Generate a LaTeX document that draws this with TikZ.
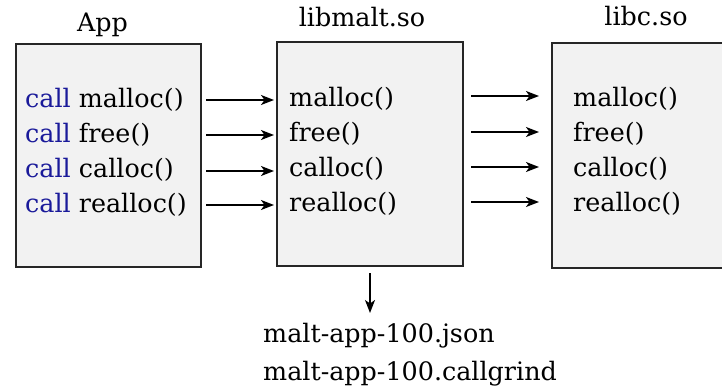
\documentclass[tikz,border=0pt]{standalone}
\usepackage{fontspec}
\setmainfont{DejaVu Serif}
\usetikzlibrary{arrows.meta}
\definecolor{boxfill}{HTML}{F2F2F2}
\definecolor{callblue}{HTML}{1A1A9A}
\tikzset{
  libbox/.style={draw=black!85, line width=1.8pt, fill=boxfill, inner sep=0pt},
  txt/.style={anchor=base west, inner sep=0pt, font=\fontsize{25.4}{30}\selectfont},
  ttl/.style={anchor=base, inner sep=0pt, font=\fontsize{25.4}{30}\selectfont},
  arr/.style={line width=1.5pt, -{Stealth[length=13pt,width=10pt,inset=3.5pt]}}
}
\begin{document}
\begin{tikzpicture}[x=1pt,y=-1pt]
\useasboundingbox (0,0) rectangle (722,387);
\clip (0,0) rectangle (722,387);
% boxes
\node[libbox, minimum width=185pt, minimum height=223pt] (app) at (108.5,155.5) {};
\node[libbox, minimum width=186pt, minimum height=224pt] (malt) at (370,154) {};
\node[libbox, minimum width=190pt, minimum height=225pt] (libc) at (647,155.5) {};
% titles
\node[ttl] (tapp) at (102.5,32) {App};
\node[ttl] (tmalt) at (362,27) {libmalt.so};
\node[ttl] (tlibc) at (646,26) {libc.so};
% app texts
\node[txt] (a1) at (25,108) {\textcolor{callblue}{call} malloc()};
\node[txt] (a2) at (25,143) {\textcolor{callblue}{call} free()};
\node[txt] (a3) at (25,178) {\textcolor{callblue}{call} calloc()};
\node[txt] (a4) at (25,213) {\textcolor{callblue}{call} realloc()};
% malt texts
\node[txt] (m1) at (289,107) {malloc()};
\node[txt] (m2) at (289,142) {free()};
\node[txt] (m3) at (289,177) {calloc()};
\node[txt] (m4) at (289,212) {realloc()};
% libc texts
\node[txt] (c1) at (573,107) {malloc()};
\node[txt] (c2) at (573,142) {free()};
\node[txt] (c3) at (573,177) {calloc()};
\node[txt] (c4) at (573,212) {realloc()};
% arrow coordinates
\foreach \i/\y in {1/100,2/135,3/171,4/205}{
  \coordinate (l\i) at (206,\y);
  \coordinate (r\i) at (274,\y);
}
\foreach \i/\y in {1/96,2/132,3/167,4/202}{
  \coordinate (ll\i) at (471,\y);
  \coordinate (rr\i) at (539,\y);
}
\foreach \i in {1,2,3,4}{
  \draw[arr] (l\i) -- (r\i);
  \draw[arr] (ll\i) -- (rr\i);
}
% output
\coordinate (dtop) at (370,273);
\coordinate (dbot) at (370,313);
\draw[arr] (dtop) -- (dbot);
\node[txt] (j) at (263,342) {malt-app-100.json};
\node[txt] (g) at (263,380) {malt-app-100.callgrind};
\end{tikzpicture}
\end{document}
